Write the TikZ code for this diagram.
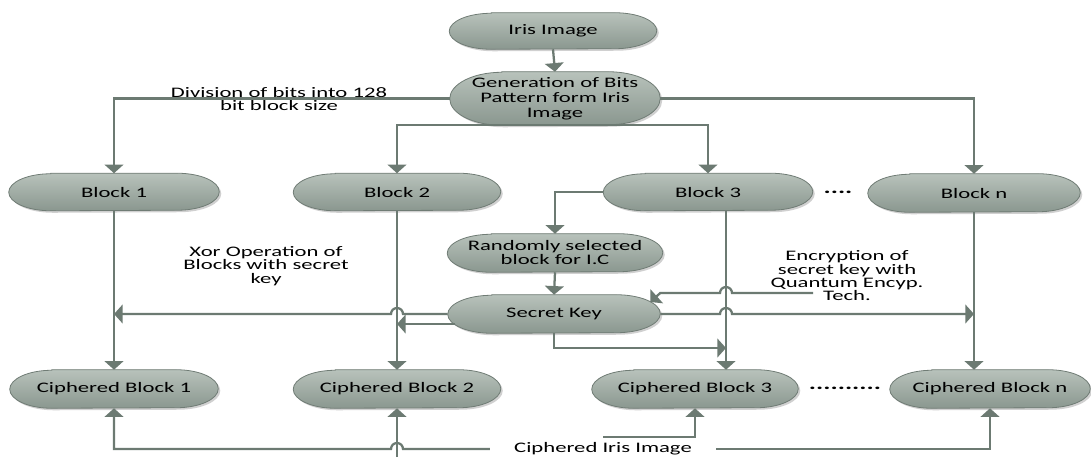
\documentclass[tikz,border=0pt]{standalone}
\usepackage{fontspec}
\setmainfont{Carlito}[FakeStretch=1.56]
\usetikzlibrary{arrows.meta,backgrounds,calc}
\definecolor{ln}{RGB}{108,122,114}
\definecolor{ftop}{RGB}{184,194,187}
\definecolor{fbot}{RGB}{138,151,143}
\definecolor{bd}{RGB}{112,124,117}
\tikzset{
  box/.style 2 args={rectangle, inner sep=0pt, align=center, text=black,
    minimum width=#1*0.75pt, minimum height=#2*0.75pt,
    font=\fontsize{10.9}{10.5}\selectfont},
  lab/.style={inner sep=0pt, align=center, text=black},
  dotlab/.style={inner sep=0pt, text=black, font=\fontsize{13}{13}\bfseries},
  arr/.style={draw=ln, line width=1.7pt, -{Triangle[length=6.5pt,width=14pt]}},
  shad/.style={fill=black!30, opacity=0.6},
  pillfill/.style={top color=ftop, bottom color=fbot, draw=bd, line width=0.6pt},
}
\begin{document}
\begin{tikzpicture}[x=0.75pt, y=-0.75pt]
\useasboundingbox (0,0) rectangle (1091,457);

% nodes
\node[box={207}{36}] (iris) at (553,31) {Iris Image};
\node[box={210}{53}, font=\fontsize{10.9}{11.25}\selectfont] (gen) at (555,98.5) {Generation of Bits\\Pattern form Iris\\Image};
\node[box={210}{37}] (b1) at (114,192) {Block 1};
\node[box={207}{37}] (b2) at (397,192) {Block 2};
\node[box={209}{37}] (b3) at (708,192) {Block 3};
\node[box={212}{38}] (bn) at (974,193) {Block n};
\node[dotlab] (dots1) at (838,192) {....};
\node[box={215}{38}] (rand) at (555,253) {Randomly selected\\block for I.C};
\node[box={212}{38}] (key) at (554,314) {Secret Key};
\node[box={208}{38}] (cb1) at (114,389) {Ciphered Block 1};
\node[box={207}{38}] (cb2) at (397,389) {Ciphered Block 2};
\node[box={206}{38}] (cb3) at (695,389) {Ciphered Block 3};
\node[box={200}{38}] (cbn) at (990,389) {Ciphered Block n};
\node[dotlab] (dots2) at (845,388) {..........};

\node[lab, font=\fontsize{10.9}{9.75}\selectfont] (div) at (279,99) {Division of bits into 128\\bit block size};
\node[lab, font=\fontsize{10.9}{10.1}\selectfont] (xor) at (266,266) {Xor Operation of\\Blocks with secret\\key};
\node[lab, font=\fontsize{10.9}{10}\selectfont] (encl) at (847,276) {Encryption of\\secret key with\\Quantum Encyp.\\Tech.};
\node[lab, font=\fontsize{10.9}{10.5}\selectfont, inner xsep=18pt, inner ysep=4pt] (ci) at (603,449) {Ciphered Iris Image};

% pill backgrounds
\begin{scope}[on background layer]
\fill[white] (0,0) rectangle (1091,457);
\foreach \n/\r/\h in {iris/42/18, gen/52/26.5, b1/42/18.5, b2/42/18.5, b3/42/18.5, bn/42/19,
  rand/44/19, key/44/19, cb1/42/19, cb2/42/19, cb3/42/19, cbn/42/19} {
  \fill[shad] ($(\n.north west)+(\r+2,2)$) -- ($(\n.north east)+(-\r+2,2)$)
     arc[start angle=-90, end angle=90, x radius=\r, y radius=\h]
     -- ($(\n.south west)+(\r+2,2)$)
     arc[start angle=90, end angle=270, x radius=\r, y radius=\h] -- cycle;
  \path[pillfill] ($(\n.north west)+(\r,0)$) -- ($(\n.north east)+(-\r,0)$)
     arc[start angle=-90, end angle=90, x radius=\r, y radius=\h]
     -- ($(\n.south west)+(\r,0)$)
     arc[start angle=90, end angle=270, x radius=\r, y radius=\h] -- cycle;
}
\end{scope}

% helper coordinates
\coordinate (c3) at (726,0);
\coordinate (bottom) at (0,457);
\coordinate (encstart) at (813,293);

% connectors
\draw[arr] (iris.south) -- (gen.north);
\draw[arr] (gen.west) -| (b1.north);
\draw[arr] (gen.east) -| (bn.north);
\draw[arr] (gen.south) -| (b2.north);
\draw[arr] (gen.south) -| (b3.north);
\draw[arr] (b3.west) -| (rand.north);
\draw[arr] (rand.south) -- (key.north);
\draw[arr] (b1.south) -- (cb1.north);
\draw[arr] (b2.south) -- (cb2.north);
\draw[arr] (b3.south -| c3) -- (cb3.north -| c3);
\draw[arr] (bn.south) -- (bn.south |- cbn.north);

\draw[arr] (key.west) -- ($(key.west -| b2.south)+(6,0)$)
   arc[start angle=0, end angle=-180, radius=6] -- (key.west -| b1.south);
\draw[arr] ($(key.west)+(7,10)$) -- ($(key.west -| b2.south)+(0,10)$);
\draw[arr] (key.east) -- ($(key.east -| c3)+(-6,0)$)
   arc[start angle=180, end angle=360, radius=6] -- (key.east -| bn.south);
\draw[arr] (key.south) |- ($(c3)+(0,348)$);
\draw[arr] (encstart) -- ($(encstart -| c3)+(6,0)$)
   arc[start angle=0, end angle=-180, radius=6] -- ($(key.east)+(0,-21)$) -- ($(key.east)+(-10,-12)$);

\draw[arr] (ci.west) -- ($(ci.west -| cb2.south)+(6,0)$)
   arc[start angle=0, end angle=-180, radius=6] -| (cb1.south);
\draw[arr] (cb2.south |- bottom) -- (cb2.south);
\draw[arr] (ci.north) -| (cb3.south);
\draw[arr] (ci.east) -| (cbn.south);
\end{tikzpicture}
\end{document}
